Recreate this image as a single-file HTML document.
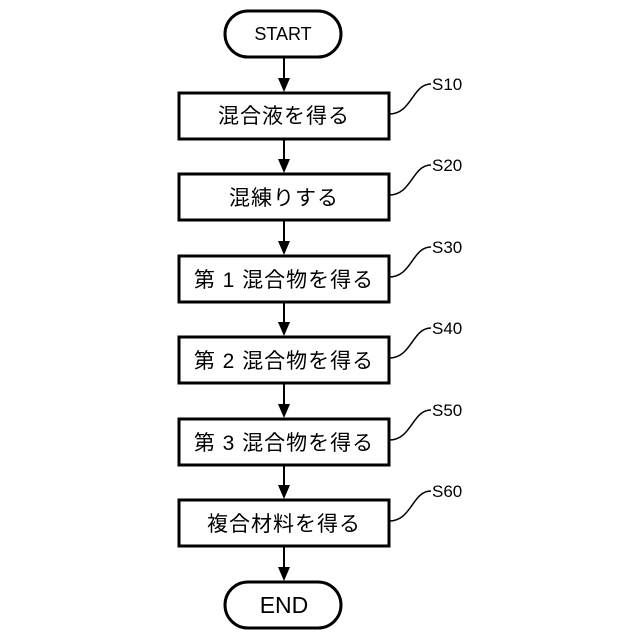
<!DOCTYPE html>
<html><head><meta charset="utf-8"><style>
html,body{margin:0;padding:0;background:#fff;}
svg{display:block;}
text{font-family:"Liberation Sans","Noto Sans CJK JP",sans-serif;fill:#000;}
</style></head><body>
<svg width="640" height="640" viewBox="0 0 640 640" xmlns="http://www.w3.org/2000/svg">
<g fill="none" stroke="#000" stroke-width="3">
<rect x="225" y="11" width="116" height="46" rx="23"/>
<rect x="225" y="582" width="116" height="46" rx="23"/>
<rect x="179" y="93" width="210" height="46"/>
<rect x="179" y="174" width="210" height="46"/>
<rect x="179" y="256" width="210" height="46"/>
<rect x="179" y="337" width="210" height="46"/>
<rect x="179" y="419" width="210" height="46"/>
<rect x="179" y="500" width="210" height="46"/>
</g>
<g stroke="#000" stroke-width="2">
<line x1="284" y1="57" x2="284" y2="84"/>
<line x1="284" y1="139" x2="284" y2="165"/>
<line x1="284" y1="220" x2="284" y2="247"/>
<line x1="284" y1="302" x2="284" y2="328"/>
<line x1="284" y1="383" x2="284" y2="410"/>
<line x1="284" y1="465" x2="284" y2="491"/>
<line x1="284" y1="546" x2="284" y2="573"/>
</g>
<g fill="#000">
<polygon points="278,78 290,78 284,92"/>
<polygon points="278,159 290,159 284,173"/>
<polygon points="278,241 290,241 284,255"/>
<polygon points="278,322 290,322 284,336"/>
<polygon points="278,404 290,404 284,418"/>
<polygon points="278,485 290,485 284,499"/>
<polygon points="278,567 290,567 284,581"/>
</g>
<g fill="none" stroke="#000" stroke-width="1.5">
<path d="M389,114 C412,114 412,84 431,84"/>
<path d="M389,195 C412,195 412,165 431,165"/>
<path d="M389,277 C412,277 412,247 431,247"/>
<path d="M389,358 C412,358 412,328 431,328"/>
<path d="M389,440 C412,440 412,410 431,410"/>
<path d="M389,521 C412,521 412,491 431,491"/>
</g>
<g font-size="17">
<text x="432" y="90">S10</text>
<text x="432" y="171">S20</text>
<text x="432" y="253">S30</text>
<text x="432" y="334">S40</text>
<text x="432" y="416">S50</text>
<text x="432" y="497">S60</text>
</g>
<g text-anchor="middle">
<text x="283" y="40" font-size="18">START</text>
<text x="284" y="613" font-size="23">END</text>
</g>
<g font-size="21" text-anchor="middle" letter-spacing="1">
<text x="284" y="123">混合液を得る</text>
<text x="284" y="205">混練りする</text>
<text x="284" y="287">第 1 混合物を得る</text>
<text x="284" y="368">第 2 混合物を得る</text>
<text x="284" y="450">第 3 混合物を得る</text>
<text x="284" y="531">複合材料を得る</text>
</g>
</svg>
</body></html>
